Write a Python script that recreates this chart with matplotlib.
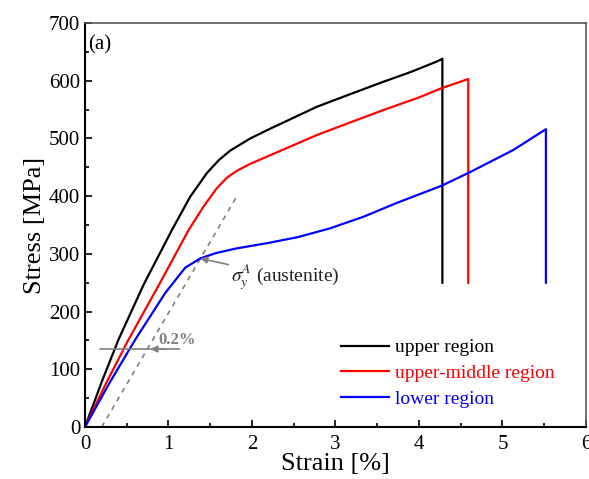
import numpy as np
import matplotlib.pyplot as plt
from matplotlib.ticker import MultipleLocator

plt.rcParams['font.family'] = ['Liberation Serif', 'DejaVu Serif']
plt.rcParams['mathtext.fontset'] = 'stix'

# strain [%] / stress [MPa]
upper_x = [0, 0.2, 0.4, 0.7, 1.04, 1.26, 1.46, 1.6, 1.74, 1.98, 2.22, 2.78, 3.2, 3.57, 3.9, 4.21, 4.28, 4.28]
upper_y = [0, 78, 151, 246, 341, 399, 440, 462, 479, 500, 517, 555, 578, 598, 615, 633, 638, 250]

umid_x = [0, 0.25, 0.52, 0.9, 1.24, 1.42, 1.58, 1.7, 1.82, 1.98, 2.22, 2.78, 3.2, 3.57, 4.0, 4.27, 4.59, 4.59]
umid_y = [0, 75, 151, 250, 341, 382, 414, 432, 444, 456, 471, 506, 529, 549, 571, 587, 603, 250]

lower_x = [0, 0.3, 0.6, 0.96, 1.2, 1.38, 1.56, 1.8, 2.2, 2.55, 2.93, 3.33, 3.73, 4.27, 4.59, 5.13, 5.52, 5.52]
lower_y = [0, 78, 151, 232, 276, 292, 301, 309, 319, 329, 344, 364, 388, 418, 440, 480, 516, 250]

offset_x = [0.2, 1.82]
offset_y = [0, 400]

labels = ['upper region', 'upper-middle region', 'lower region']
colors = ['black', 'red', 'blue']

fig = plt.figure(figsize=(5.89, 4.79), dpi=100)
ax = fig.add_axes([0.1443, 0.1086, 0.8506, 0.8434])

ax.plot(offset_x, offset_y, color='gray', ls=(0, (3, 3)), lw=1.2)
ax.plot(upper_x, upper_y, color=colors[0], lw=1.6, label=labels[0])
ax.plot(umid_x, umid_y, color=colors[1], lw=1.6, label=labels[1])
ax.plot(lower_x, lower_y, color=colors[2], lw=1.6, label=labels[2])

# 0.2% offset marker
ax.plot([0.18, 1.12], [135, 135], color='gray', lw=1.2)
ax.annotate('', xy=(0.75, 135), xytext=(1.0, 135),
            arrowprops=dict(arrowstyle='-|>', color='gray', lw=1.2, mutation_scale=10))
ax.text(0.88, 150, '0.2%', color='gray', fontsize=12, fontweight='bold', va='center')

# yield point of austenite
ax.annotate(r'$\sigma_y^A$ (austenite)', xy=(1.38, 292), xytext=(1.75, 260),
            fontsize=14, va='center', color='#222222',
            arrowprops=dict(arrowstyle='-|>', color='gray', lw=1.2, mutation_scale=10,
                            shrinkA=0, shrinkB=0))

ax.text(0.04, 662, '(a)', fontsize=15, va='center')

ax.set_xlim(0, 6)
ax.set_ylim(0, 700)
ax.xaxis.set_major_locator(MultipleLocator(1))
ax.xaxis.set_minor_locator(MultipleLocator(0.5))
ax.yaxis.set_major_locator(MultipleLocator(100))
ax.yaxis.set_minor_locator(MultipleLocator(50))
ax.tick_params(which='both', direction='in', top=False, right=False, labelsize=15, width=1.2)
ax.tick_params(which='major', length=5)
ax.tick_params(which='minor', length=3)
ax.tick_params(axis='x', pad=6)

for s in ['left', 'bottom']:
    ax.spines[s].set_linewidth(1.5)
for s in ['top', 'right']:
    ax.spines[s].set_linewidth(1.2)
    ax.spines[s].set_color('#555555')

ax.set_xlabel('Strain [%]', fontsize=19, labelpad=-1)
ax.set_ylabel('Stress [MPa]', fontsize=19, labelpad=2)

leg = ax.legend(loc='lower left', bbox_to_anchor=(0.476, 0.003), frameon=False,
                fontsize=14, handlelength=2.47, handletextpad=0.3, labelspacing=0.43)
for txt, c in zip(leg.get_texts(), colors):
    txt.set_color(c)

fig.savefig('out.png', dpi=100)
